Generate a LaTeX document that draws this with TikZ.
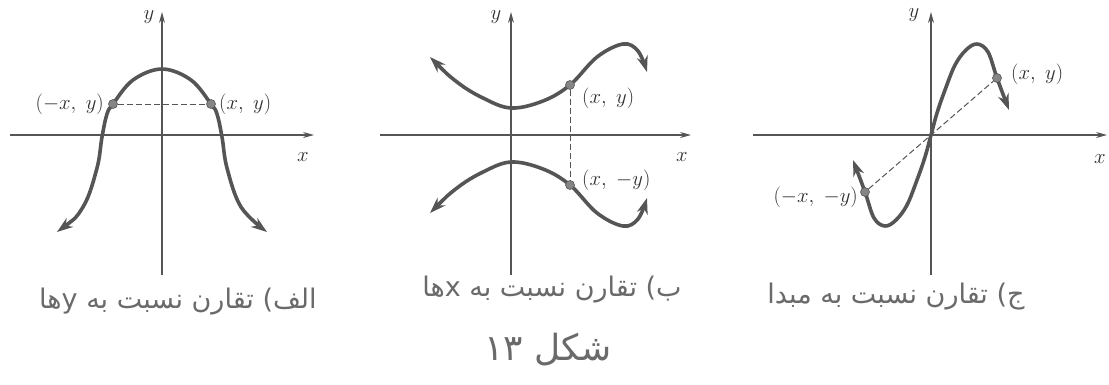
\documentclass[tikz,border=0pt]{standalone}
\usepackage{fontspec}
\newfontfamily\arabicfont[Script=Arabic]{DejaVu Sans}
\TeXXeTstate=1
\usetikzlibrary{arrows.meta}
\definecolor{ink}{HTML}{555555}
\definecolor{axisc}{HTML}{555555}
\definecolor{dotc}{HTML}{858585}
\definecolor{hand}{HTML}{6A6A6A}
\definecolor{labc}{HTML}{303030}
\tikzset{
  axis/.style={draw=axisc, line width=1.2pt, -{Stealth[length=11pt,width=6pt]}},
  curve/.style={draw=ink, line width=3.6pt, line cap=round,
    {Stealth[length=16pt,width=11pt]}-{Stealth[length=16pt,width=11pt]}},
  guide/.style={draw=axisc, line width=1pt, dash pattern=on 6pt off 3pt},
  ptdot/.style={circle, fill=dotc, draw=ink, line width=0.6pt, inner sep=0pt, minimum size=9pt},
  ptlabel/.style={text=labc, font=\fontsize{20}{23}\selectfont, inner sep=1pt},
  axlabel/.style={text=labc, font=\fontsize{21}{24}\selectfont, inner sep=0pt},
  caption/.style={text=hand, font=\arabicfont\fontsize{27}{32}\selectfont, inner sep=0pt},
  figcap/.style={text=hand, font=\arabicfont\fontsize{36}{40}\selectfont, inner sep=0pt},
}
\begin{document}
\begin{tikzpicture}[x=1pt,y=-1pt]
\useasboundingbox[fill=white] (0,0) rectangle (1109,384);

% ---------- graph A: symmetric about y-axis ----------
\coordinate (a-xs) at (10,135);  \coordinate (a-xe) at (314,135);
\coordinate (a-ys) at (162,275); \coordinate (a-ye) at (162,12);
\draw[axis] (a-xs) -- (a-xe);
\draw[axis] (a-ys) -- (a-ye);
\node[axlabel] (a-ylab) at (149,17) {$y$};
\node[axlabel] (a-xlab) at (303,157) {$x$};
\draw[curve] plot[smooth, tension=0.6] coordinates {
  (57,232) (83,207) (97,168) (102,137) (107,114) (113,104) (133,80) (162,69)
  (191,80) (211,104) (217,114) (222,137) (227,168) (241,207) (267,232)};
\node[ptdot] (a-p1) at (113,104) {};
\node[ptdot] (a-p2) at (211,104) {};
\draw[guide] (a-p1) -- (a-p2);
\node[ptlabel, anchor=east] (a-l1) at (105,104) {$(-x,\ y)$};
\node[ptlabel, anchor=west] (a-l2) at (218,104) {$(x,\ y)$};

% ---------- graph B: symmetric about x-axis ----------
\coordinate (b-xs) at (380,135); \coordinate (b-xe) at (691,135);
\coordinate (b-ys) at (511,275); \coordinate (b-ye) at (511,12);
\draw[axis] (b-xs) -- (b-xe);
\draw[axis] (b-ys) -- (b-ye);
\node[axlabel] (b-ylab) at (496,17) {$y$};
\node[axlabel] (b-xlab) at (682,157) {$x$};
\draw[curve] plot[smooth, tension=0.6] coordinates {
  (430,57) (457,82) (483,98) (511,108) (543,101) (570,85) (597,57) (623,44) (638,51) (647,72)};
\draw[curve] plot[smooth, tension=0.6] coordinates {
  (430,213) (457,188) (483,172) (511,162) (543,169) (570,185) (597,213) (623,226) (638,219) (647,198)};
\node[ptdot] (b-p1) at (570,85) {};
\node[ptdot] (b-p2) at (570,185) {};
\draw[guide] (b-p1) -- (b-p2);
\node[ptlabel, anchor=west] (b-l1) at (581,98) {$(x,\ y)$};
\node[ptlabel, anchor=west] (b-l2) at (581,180) {$(x,\ -y)$};

% ---------- graph C: symmetric about origin ----------
\coordinate (c-xs) at (753,135); \coordinate (c-xe) at (1107,135);
\coordinate (c-ys) at (931,275); \coordinate (c-ye) at (931,12);
\draw[axis] (c-xs) -- (c-xe);
\draw[axis] (c-ys) -- (c-ye);
\node[axlabel] (c-ylab) at (914,15) {$y$};
\node[axlabel] (c-xlab) at (1100,159) {$x$};
\draw[curve] plot[smooth, tension=0.6] coordinates {
  (853,160) (865,192) (874,218) (885,226) (896,220) (907,205) (917,180) (925,157) (931,135)
  (937,113) (945,90) (955,65) (966,50) (977,44) (988,52) (997,78) (1009,110)};
\node[ptdot] (c-p1) at (997,78) {};
\node[ptdot] (c-p2) at (865,192) {};
\draw[guide] (c-p2) -- (c-p1);
\node[ptlabel, anchor=west] (c-l1) at (1010,74) {$(x,\ y)$};
\node[ptlabel, anchor=east] (c-l2) at (859,197) {$(-x,\ -y)$};

% ---------- captions ----------
\node[caption] (capa) at (178,302) {\beginR الف) تقارن نسبت به \beginL y\endL{}ها\endR};
\node[caption] (capb) at (552,290) {\beginR ب) تقارن نسبت به \beginL x\endL{}ها\endR};
\node[caption] (capc) at (896,297) {\beginR ج) تقارن نسبت به مبدا\endR};
\node[figcap] (fig) at (548,350) {\beginR شکل \beginL ۱۳\endL\endR};
\end{tikzpicture}
\end{document}
